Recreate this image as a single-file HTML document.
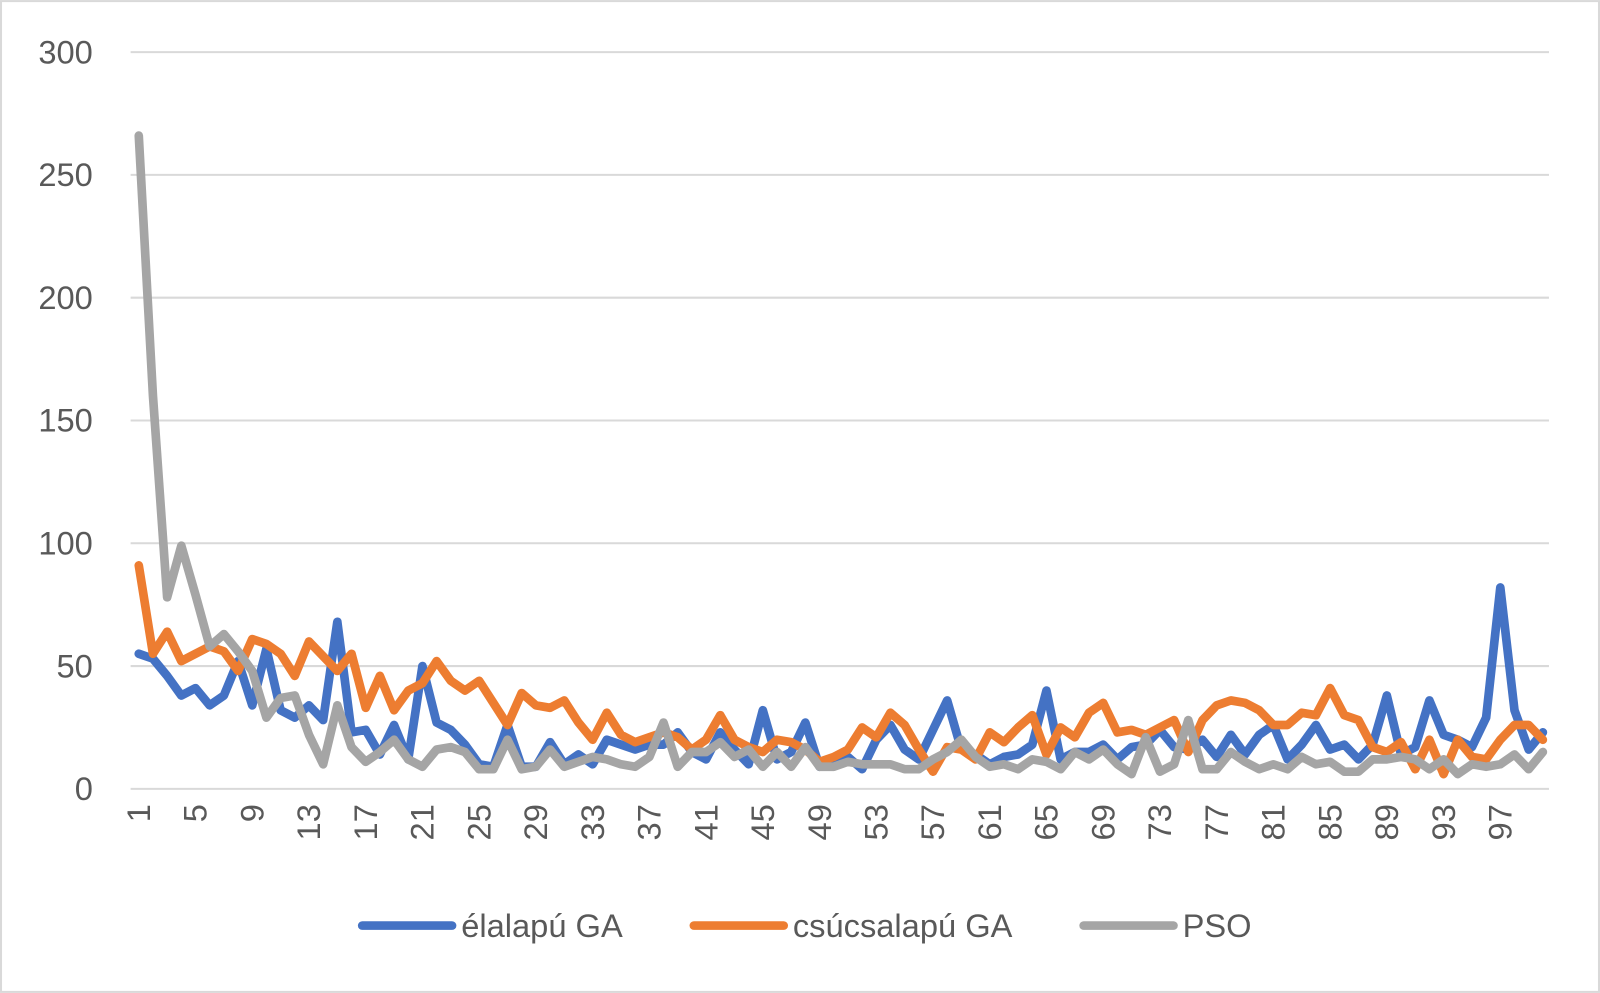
<!DOCTYPE html>
<html><head><meta charset="utf-8"><style>
body{margin:0;background:#fff;}
svg{display:block;font-family:"Liberation Sans",sans-serif;}
</style></head><body>
<svg id="chart" width="1600" height="993" viewBox="0 0 1568 973">
<rect x="1" y="1" width="1566" height="971" fill="#fff" stroke="#d9d9d9" stroke-width="2"/>
<g id="grid"></g><g id="ylab"></g><g id="xlab"></g><g id="lines"></g><g id="legend"></g>
</svg>
<script>
const categories = Array.from({length:100},(_,i)=>i+1);
const yTicks = [0,50,100,150,200,250,300];
const seriesNames = ["élalapú GA","csúcsalapú GA","PSO"];
const elalapu = [55,53,46,38,41,34,38,52,34,57,32,29,34,28,68,23,24,14,26,12,50,27,24,18,10,9,26,9,9,19,10,14,10,20,18,16,18,18,23,15,12,23,16,10,32,12,15,27,9,12,13,8,20,26,16,12,24,36,16,14,10,13,14,18,40,12,15,15,18,12,17,18,24,17,16,20,13,22,14,22,26,12,18,26,16,18,12,18,38,14,17,36,22,20,17,29,82,32,16,23];
const csucsalapu = [91,55,64,52,55,58,56,48,61,59,55,46,60,54,48,55,33,46,32,40,43,52,44,40,44,35,26,39,34,33,36,27,20,31,22,19,21,23,21,16,20,30,20,17,15,20,19,16,11,13,16,25,21,31,26,16,7,17,16,12,23,19,25,30,14,25,21,31,35,23,24,22,25,28,15,28,34,36,35,32,26,26,31,30,41,30,28,17,15,19,8,20,6,20,13,12,20,26,26,20];
const pso = [266,160,78,99,79,58,63,56,48,29,37,38,22,10,34,17,11,15,20,12,9,16,17,15,8,8,20,8,9,16,9,11,13,12,10,9,13,27,9,15,15,19,13,16,9,15,9,17,9,9,11,10,10,10,8,8,12,15,20,13,9,10,8,12,11,8,15,12,16,10,6,21,7,10,28,8,8,15,11,8,10,8,13,10,11,7,7,12,12,13,12,8,12,6,10,9,10,14,8,15];
const colors = ["#4472c4","#ed7d31","#a5a5a5"];
const NS="http://www.w3.org/2000/svg";
const x0=136,x1=1512,yb=773,yt=51,L=128,R=1518;
const xs=i=>x0+(x1-x0)*i/(categories.length-1);
const ys=v=>yb-(yb-yt)*v/300;
function mk(t,a,p){const e=document.createElementNS(NS,t);for(const k in a)e.setAttribute(k,a[k]);p.appendChild(e);return e;}
const grid=document.getElementById('grid'),ylab=document.getElementById('ylab');
yTicks.forEach(v=>{
 const l=mk('line',{x1:L,x2:R,y1:ys(v),y2:ys(v),stroke:'#d9d9d9','stroke-width':2},grid);
 
 
 const t=mk('text',{x:91,y:ys(v)+11,'text-anchor':'end','font-size':32,fill:'#595959'},ylab);t.textContent=v;
 
 
});
const xlab=document.getElementById('xlab');
categories.forEach((c,i)=>{ if(i%4!==0)return;
 const x=xs(i);
 const t=mk('text',{x:0,y:0,'text-anchor':'end','font-size':32,fill:'#595959',transform:`translate(${x+11},788) rotate(-90)`},xlab);t.textContent=c;
 
 
});
const lines=document.getElementById('lines');
[elalapu,csucsalapu,pso].forEach((s,k)=>{
 const p=mk('polyline',{points:s.map((v,i)=>xs(i)+','+ys(v)).join(' '),fill:'none',stroke:colors[k],'stroke-width':8.5,'stroke-linejoin':'round','stroke-linecap':'round'},lines);
 
 
});
const leg=document.getElementById('legend');
const lx=[355,680,1062];
seriesNames.forEach((n,k)=>{
 const g=mk('g',{},leg);
 
 
 mk('line',{x1:lx[k],x2:lx[k]+88,y1:907,y2:907,stroke:colors[k],'stroke-width':8.5,'stroke-linecap':'round'},g);
 const t=mk('text',{x:lx[k]+97,y:918,'font-size':32,fill:'#595959'},g);t.textContent=n;
});
</script>
</body></html>
